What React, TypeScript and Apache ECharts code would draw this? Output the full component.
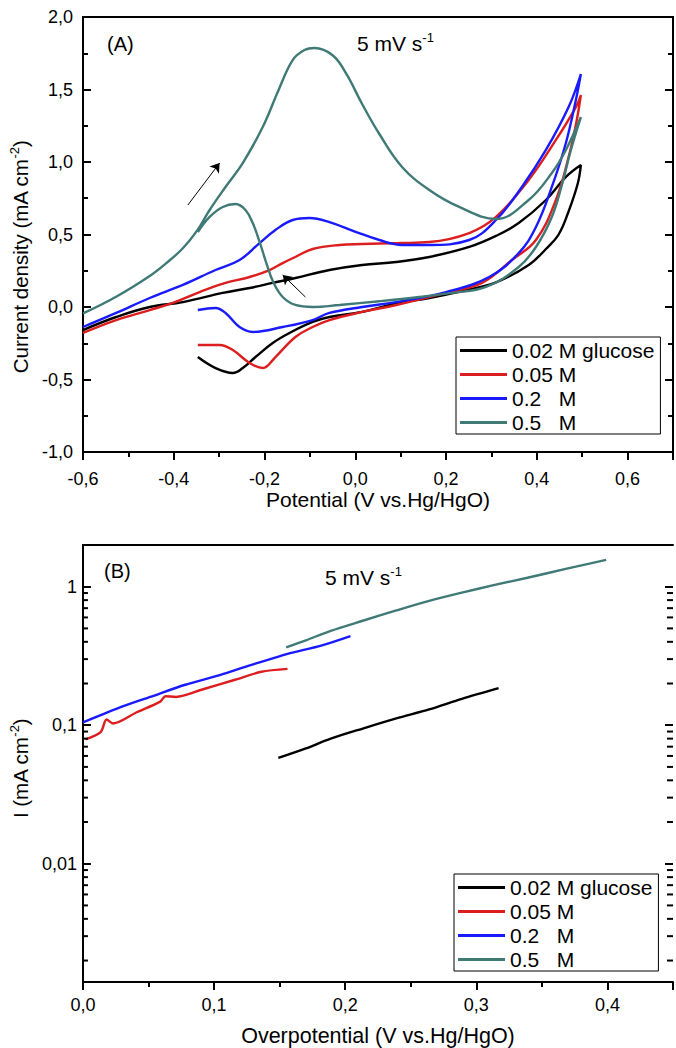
import React, { useEffect, useRef } from 'react';
import * as echarts from 'echarts';

const FONT = '"Liberation Sans", Arial, Helvetica, sans-serif';

const seriesNames = ['0.02 M glucose', '0.05 M', '0.2   M', '0.5   M'];
const seriesColors = ['#000000', '#dc1e1e', '#1a1aff', '#3f7a76'];

// Panel A: cyclic voltammograms [potential (V), current density (mA cm-2)]
const cvGlucose002: [number, number][] = [
  [-0.6, -0.159], [-0.527, -0.069], [-0.453, 0.0], [-0.38, 0.034], [-0.292, 0.097], [-0.233, 0.131],
  [-0.182, 0.166], [-0.132, 0.2], [-0.057, 0.255], [0.015, 0.29], [0.09, 0.31], [0.163, 0.345],
  [0.251, 0.414], [0.31, 0.49], [0.36, 0.579], [0.42, 0.738], [0.464, 0.897], [0.497, 0.979],
  [0.49, 0.85], [0.47, 0.66], [0.448, 0.5], [0.42, 0.4], [0.382, 0.29], [0.31, 0.17], [0.235, 0.11],
  [0.163, 0.062], [0.09, 0.025], [0.015, -0.034], [-0.057, -0.069], [-0.094, -0.103], [-0.145, -0.179],
  [-0.182, -0.248], [-0.22, -0.345], [-0.248, -0.421], [-0.27, -0.455], [-0.308, -0.421], [-0.347, -0.345],
];
const cvGlucose005: [number, number][] = [
  [-0.6, -0.179], [-0.527, -0.09], [-0.453, -0.021], [-0.402, 0.028], [-0.343, 0.103], [-0.286, 0.166],
  [-0.233, 0.207], [-0.189, 0.255], [-0.16, 0.303], [-0.132, 0.345], [-0.094, 0.4], [-0.035, 0.428],
  [0.015, 0.434], [0.097, 0.441], [0.163, 0.448], [0.251, 0.51], [0.31, 0.621], [0.382, 0.876],
  [0.442, 1.152], [0.486, 1.379], [0.497, 1.462],
  [0.488, 1.29], [0.47, 1.034], [0.442, 0.738], [0.398, 0.462], [0.345, 0.324], [0.279, 0.166],
  [0.2, 0.097], [0.09, 0.014], [0.015, -0.034], [-0.057, -0.09], [-0.094, -0.138], [-0.132, -0.207],
  [-0.176, -0.345], [-0.204, -0.421], [-0.233, -0.386], [-0.27, -0.297], [-0.299, -0.262], [-0.347, -0.262],
];
const cvGlucose02: [number, number][] = [
  [-0.6, -0.138], [-0.527, -0.041], [-0.453, 0.062], [-0.38, 0.152], [-0.308, 0.255], [-0.255, 0.324],
  [-0.211, 0.441], [-0.176, 0.531], [-0.138, 0.6], [-0.101, 0.614], [-0.057, 0.586], [0.002, 0.517],
  [0.053, 0.462], [0.103, 0.428], [0.163, 0.428], [0.251, 0.462], [0.31, 0.6], [0.367, 0.828],
  [0.42, 1.083], [0.47, 1.379], [0.497, 1.607],
  [0.486, 1.428], [0.464, 1.131], [0.433, 0.828], [0.398, 0.552], [0.36, 0.372], [0.295, 0.207],
  [0.2, 0.103], [0.09, 0.034], [0.015, 0.0], [-0.057, -0.041], [-0.094, -0.09], [-0.16, -0.138],
  [-0.226, -0.172], [-0.255, -0.138], [-0.286, -0.041], [-0.308, -0.007], [-0.347, -0.021],
];
const cvGlucose05: [number, number][] = [
  [-0.6, -0.044], [-0.527, 0.071], [-0.453, 0.214], [-0.417, 0.301], [-0.38, 0.405], [-0.349, 0.525],
  [-0.321, 0.669], [-0.286, 0.828], [-0.248, 0.993], [-0.204, 1.241], [-0.169, 1.497], [-0.138, 1.703],
  [-0.112, 1.772], [-0.09, 1.786], [-0.05, 1.736], [-0.02, 1.609], [0.015, 1.4], [0.053, 1.193],
  [0.103, 0.966], [0.163, 0.807], [0.229, 0.69], [0.31, 0.607], [0.382, 0.738], [0.433, 0.924],
  [0.464, 1.083], [0.497, 1.31],
  [0.475, 1.083], [0.455, 0.84], [0.433, 0.621], [0.398, 0.414], [0.36, 0.276], [0.288, 0.138],
  [0.213, 0.097], [0.141, 0.069], [0.053, 0.04], [-0.035, 0.014], [-0.094, 0.0], [-0.132, 0.014],
  [-0.16, 0.069], [-0.18, 0.166], [-0.196, 0.303], [-0.21, 0.441], [-0.226, 0.579], [-0.242, 0.669],
  [-0.264, 0.71], [-0.292, 0.69], [-0.321, 0.621], [-0.347, 0.517],
];
// scan-direction arrows in panel A: [tail, head]
const arrowsA: [number, number][][] = [
  [[-0.369, 0.703], [-0.299, 0.993]],
  [[-0.11, 0.069], [-0.16, 0.221]],
];

// Panel B: Tafel plots [overpotential (V), I (mA cm-2)]
const tafel002: [number, number][] = [
  [0.149, 0.058], [0.17, 0.068], [0.189, 0.08], [0.214, 0.095], [0.239, 0.112], [0.264, 0.13],
  [0.289, 0.155], [0.317, 0.185],
];
const tafel005: [number, number][] = [
  [0.002, 0.079], [0.0135, 0.089], [0.018, 0.11], [0.023, 0.103], [0.041, 0.124], [0.059, 0.148],
  [0.063, 0.162], [0.071, 0.16], [0.091, 0.181], [0.116, 0.213], [0.136, 0.243], [0.156, 0.255],
];
const tafel02: [number, number][] = [
  [0.0, 0.105], [0.026, 0.132], [0.052, 0.161], [0.078, 0.196], [0.105, 0.231], [0.126, 0.268],
  [0.146, 0.306], [0.156, 0.327], [0.183, 0.379], [0.204, 0.44],
];
const tafel05: [number, number][] = [
  [0.155, 0.365], [0.17, 0.41], [0.189, 0.48], [0.214, 0.57], [0.239, 0.674], [0.264, 0.79],
  [0.289, 0.906], [0.314, 1.03], [0.339, 1.16], [0.369, 1.35], [0.399, 1.56],
];
const logMinorTicks = [
  0.002, 0.003, 0.004, 0.005, 0.006, 0.007, 0.008, 0.009,
  0.02, 0.03, 0.04, 0.05, 0.06, 0.07, 0.08, 0.09,
  0.2, 0.3, 0.4, 0.5, 0.6, 0.7, 0.8, 0.9,
];

const fmtComma = (v: number, d: number) => {
  const r = Math.abs(v) < 1e-9 ? 0 : v;
  return r.toFixed(d).replace('.', ',');
};
const isMultiple = (v: number, step: number) => Math.abs(v / step - Math.round(v / step)) < 1e-6;
const fmtDecade = (v: number) => {
  const e = Math.log10(v);
  const k = Math.round(e);
  if (Math.abs(e - k) > 1e-6) return '';
  if (k >= 0) return String(Math.pow(10, k));
  return '0,' + '0'.repeat(-k - 1) + '1';
};

const black = '#000';
const nameRich = {
  a: { fontSize: 20.5, fontFamily: FONT, color: black, lineHeight: 25 },
  s: { fontSize: 13, fontFamily: FONT, color: black, lineHeight: 14, verticalAlign: 'top' },
};
const labelStyle = { fontSize: 18, color: black, fontFamily: FONT };
const tickStyle = { color: black, width: 2 };
const supText = {
  a: { fontSize: 21, fontFamily: FONT, fill: black, lineHeight: 24 },
  s: { fontSize: 13, fontFamily: FONT, fill: black, lineHeight: 14, verticalAlign: 'top' },
};

export default function App() {
  const ref = useRef<HTMLDivElement>(null);
  useEffect(() => {
    if (!ref.current) return;
    const chart = echarts.init(ref.current, null, { renderer: 'svg' });
    const cvData = [cvGlucose002, cvGlucose005, cvGlucose02, cvGlucose05];
    const tafelData = [tafel002, tafel005, tafel02, tafel05];
    const legendBase = {
      data: seriesNames,
      orient: 'vertical',
      icon: 'rect',
      itemWidth: 47,
      itemHeight: 3,
      itemGap: 3,
      selectedMode: false,
      borderColor: black,
      borderWidth: 1,
      padding: [3, 6, 1, 4],
      textStyle: { fontSize: 21, color: black, fontFamily: FONT, lineHeight: 21 },
    };
    const option: any = {
      animation: false,
      backgroundColor: '#fff',
      grid: [
        { left: 83, top: 17, width: 590, height: 435, show: true, borderColor: black, borderWidth: 2, backgroundColor: 'transparent' },
        { left: 79, top: 545, width: 598, height: 440, show: false },
      ],
      legend: [
        { ...legendBase, left: 456, top: 337 },
        { ...legendBase, left: 454, top: 874 },
      ],
      xAxis: [
        {
          gridIndex: 0, type: 'value', min: -0.6, max: 0.7, interval: 0.2, position: 'bottom',
          axisLine: { show: true, onZero: false, lineStyle: tickStyle },
          axisTick: { show: true, inside: false, length: 8, lineStyle: tickStyle },
          axisLabel: { margin: 18, ...labelStyle, formatter: (v: number) => (isMultiple(v, 0.2) ? fmtComma(v, 1) : '') },
          splitLine: { show: false },
          name: 'Potential (V vs.Hg/HgO)', nameLocation: 'middle', nameGap: 36,
          nameTextStyle: { fontSize: 21, color: black, fontFamily: FONT },
        },
        {
          gridIndex: 0, type: 'value', min: -0.6, max: 0.7, interval: 0.1, position: 'bottom',
          axisLine: { show: false, onZero: false },
          axisTick: { show: true, inside: false, length: 5, lineStyle: tickStyle },
          axisLabel: { show: false }, splitLine: { show: false },
        },
        {
          gridIndex: 1, type: 'value', min: 0, max: 0.45, interval: 0.1, position: 'bottom',
          axisLine: { show: true, onZero: false, lineStyle: tickStyle },
          axisTick: { show: true, inside: false, length: 8, lineStyle: tickStyle },
          axisLabel: { margin: 14, ...labelStyle, formatter: (v: number) => (isMultiple(v, 0.1) ? fmtComma(v, 1) : '') },
          splitLine: { show: false },
          name: 'Overpotential (V vs.Hg/HgO)', nameLocation: 'middle', nameGap: 43,
          nameTextStyle: { fontSize: 21.5, color: black, fontFamily: FONT },
        },
        {
          gridIndex: 1, type: 'value', min: 0, max: 0.45, interval: 0.05, position: 'bottom',
          axisLine: { show: false, onZero: false },
          axisTick: { show: true, inside: false, length: 5, lineStyle: tickStyle },
          axisLabel: { show: false }, splitLine: { show: false },
        },
        {
          gridIndex: 1, type: 'value', min: 0, max: 0.45, position: 'top',
          axisLine: { show: true, onZero: false, lineStyle: tickStyle },
          axisTick: { show: false }, axisLabel: { show: false }, splitLine: { show: false },
        },
      ],
      yAxis: [
        {
          gridIndex: 0, type: 'value', min: -1, max: 2, interval: 0.5, position: 'left',
          axisLine: { show: true, onZero: false, lineStyle: tickStyle },
          axisTick: { show: true, inside: true, length: 8, lineStyle: tickStyle },
          minorTick: { show: true, splitNumber: 2, length: 5, lineStyle: tickStyle },
          axisLabel: { margin: 10, ...labelStyle, formatter: (v: number) => fmtComma(v, 1) },
          splitLine: { show: false },
          name: '{a|Current density (mA cm}{s|-2}{a|)}', nameLocation: 'middle', nameGap: 50, nameRotate: 90,
          nameTextStyle: { rich: nameRich, padding: [0, 45, 0, 0] },
        },
        {
          gridIndex: 0, type: 'value', min: -1, max: 2, interval: 0.5, position: 'right',
          axisLine: { show: true, onZero: false, lineStyle: tickStyle },
          axisTick: { show: true, inside: true, length: 8, lineStyle: tickStyle },
          minorTick: { show: true, splitNumber: 2, length: 5, lineStyle: tickStyle },
          axisLabel: { show: false }, splitLine: { show: false },
        },
        {
          gridIndex: 1, type: 'log', logBase: 10, min: 0.0014, max: 2, position: 'left',
          axisLine: { show: true, onZero: false, lineStyle: tickStyle },
          axisTick: { show: true, inside: true, length: 8, lineStyle: tickStyle },
          axisLabel: { margin: 6, ...labelStyle, formatter: (v: number) => fmtDecade(v) },
          splitLine: { show: false },
          name: '{a|I (mA cm}{s|-2}{a|)}', nameLocation: 'middle', nameGap: 47, nameRotate: 90,
          nameTextStyle: { rich: nameRich, padding: [0, 10, 0, 0] },
        },
        {
          gridIndex: 1, type: 'log', logBase: 10, min: 0.0014, max: 2, position: 'right',
          axisLine: { show: false, onZero: false },
          axisTick: { show: true, inside: true, length: 8, lineStyle: tickStyle },
          axisLabel: { show: false }, splitLine: { show: false },
        },
      ],
      graphic: [
        { type: 'text', x: 107, y: 44, style: { text: '(A)', font: `20px ${FONT}`, fill: black, verticalAlign: 'middle' } },
        { type: 'text', x: 357, y: 43, style: { text: '{a|5 mV s}{s|-1}', verticalAlign: 'middle', rich: supText } },
        { type: 'text', x: 104, y: 571, style: { text: '(B)', font: `20px ${FONT}`, fill: black, verticalAlign: 'middle' } },
        { type: 'text', x: 325, y: 577, style: { text: '{a|5 mV s}{s|-1}', verticalAlign: 'middle', rich: supText } },
      ],
      series: [
        ...seriesNames.map((name, i) => ({
          name, type: 'line', xAxisIndex: 0, yAxisIndex: 0, data: cvData[i],
          showSymbol: false, symbol: 'none', smooth: 0.4, color: seriesColors[i],
          lineStyle: { color: seriesColors[i], width: 2.4 }, silent: true, z: 3,
        })),
        ...seriesNames.map((name, i) => ({
          name, type: 'line', xAxisIndex: 2, yAxisIndex: 2, data: tafelData[i],
          showSymbol: false, symbol: 'none', smooth: 0.3, color: seriesColors[i],
          lineStyle: { color: seriesColors[i], width: 2.4 }, silent: true, z: 3,
        })),
        {
          type: 'lines', coordinateSystem: 'cartesian2d', xAxisIndex: 0, yAxisIndex: 0,
          symbol: ['none', 'arrow'], symbolSize: 9, silent: true, z: 4,
          lineStyle: { color: black, width: 1, opacity: 1 },
          data: arrowsA.map((c) => ({ coords: c })),
        },
        {
          type: 'custom', xAxisIndex: 2, yAxisIndex: 2, silent: true, z: 5, clip: false,
          data: logMinorTicks.map((v) => [0, v]),
          renderItem: (_p: any, api: any) => {
            const v = api.value(1);
            const l = api.coord([0, v]);
            const r = api.coord([0.45, v]);
            return {
              type: 'group',
              children: [
                { type: 'line', shape: { x1: l[0], y1: l[1], x2: l[0] + 5, y2: l[1] }, style: { stroke: black, lineWidth: 2 } },
                { type: 'line', shape: { x1: r[0], y1: r[1], x2: r[0] - 6, y2: r[1] }, style: { stroke: black, lineWidth: 2 } },
              ],
            };
          },
        },
      ],
    };
    chart.setOption(option);
    return () => chart.dispose();
  }, []);
  return <div ref={ref} style={{ position: 'absolute', left: 0, top: 0, width: 676, height: 1048 }} />;
}
